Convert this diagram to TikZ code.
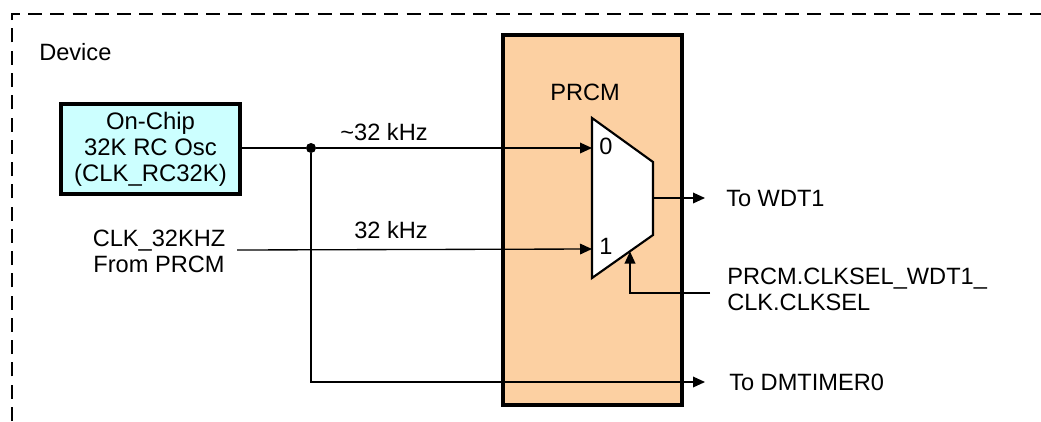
\documentclass[tikz,border=0pt]{standalone}
\usepackage{fontspec}
\setmainfont{Liberation Sans}
\usetikzlibrary{arrows.meta}
\definecolor{peach}{RGB}{252,208,162}
\definecolor{lcyan}{RGB}{204,255,255}
\begin{document}
\begin{tikzpicture}[x=0.75pt,y=-0.75pt,
  every node/.style={font=\fontsize{17.7}{19.5}\selectfont, inner sep=0pt},
  wire/.style={line width=1pt},
  arr/.style={wire,-{Triangle[length=9pt,width=8pt]}},
  thickbox/.style={draw, line width=2.4pt},
  lbl/.style={anchor=west, align=left}]
\useasboundingbox (0,0) rectangle (1041,421);
% device border
\draw[line width=2.2pt, dash pattern=on 10.5pt off 6.2pt] (12,421) -- (12,14) -- (1041,14);
\node[lbl] (dev) at (39,52) {Device};
% PRCM box
\node[thickbox, fill=peach, minimum width=134.25pt, minimum height=277.5pt] (prcm) at (592.5,220) {};
\node (prcmlbl) at (585,92) {PRCM};
% oscillator
\node[thickbox, fill=lcyan, minimum width=134.25pt, minimum height=67.5pt, align=center, font=\fontsize{17.9}{19.6}\selectfont] (rc) at (150.5,149) {On-Chip\\32K RC Osc\\(CLK\_RC32K)};
% mux
\coordinate (mA) at (592,118);
\coordinate (mB) at (653,162);
\coordinate (mC) at (653,235);
\coordinate (mD) at (592,278);
\draw[line width=1.6pt, fill=white] (mA) -- (mB) -- (mC) -- (mD) -- cycle;
\coordinate (in0) at (592,148);
\coordinate (in1) at (592,249);
\coordinate (mout) at (653,198);
\coordinate (sel) at (630,251.5);
\node (l0) at (606,146) {0};
\node (l1) at (606,246) {1};
% labels
\node[align=center] (clk) at (159,251) {CLK\_32KHZ\\From PRCM};
\node (f0) at (384,132) {\textasciitilde 32 kHz};
\node (f1) at (391,230) {32 kHz};
\node[lbl] (wdt) at (726,198) {To WDT1};
\node[lbl] (dmt) at (729,382) {To DMTIMER0};
\node[lbl] (csel) at (727,289) {PRCM.CLKSEL\_WDT1\_\\CLK.CLKSEL};
% junction
\node[circle, fill, minimum size=7.5pt] (j) at (311,148) {};
\coordinate (clkout) at (237,250);
\coordinate (wdtin) at (705,198);
\coordinate (dmtin) at (705,382);
\coordinate (selin) at (710,293);
% wires
\draw[wire] (rc.east |- j) -- (j);
\draw[arr] (j) -- (in0);
\draw[arr] (clkout) -- (in1);
\draw[arr] (j) |- (dmtin);
\draw[arr] (mout) -- (wdtin);
\draw[arr] (selin) -| (sel);
\end{tikzpicture}
\end{document}
